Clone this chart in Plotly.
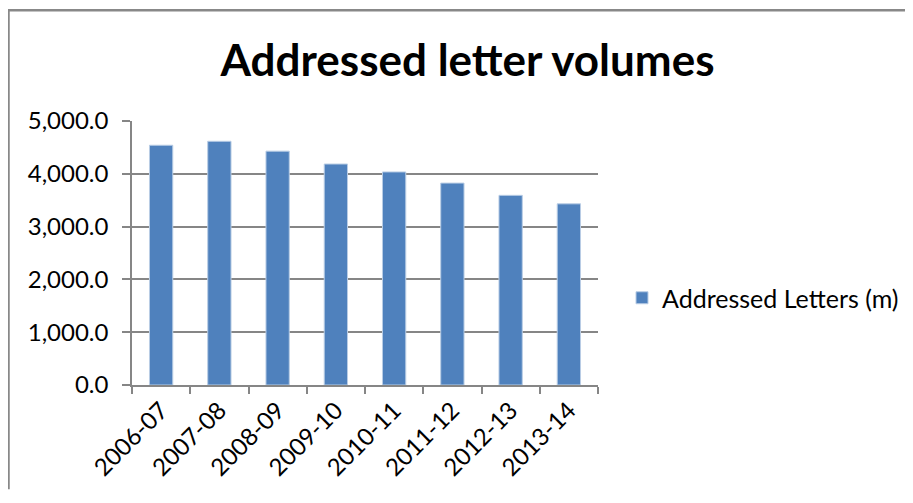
import plotly.graph_objects as go

categories = ["2006-07", "2007-08", "2008-09", "2009-10", "2010-11", "2011-12", "2012-13", "2013-14"]
letters = [4541, 4616, 4429, 4185, 4035, 3824, 3592, 3431]
series_name = "Addressed Letters (m)"
title_text = "Addressed letter volumes"

# page has an 8px body margin, so the figure is laid out in shifted coordinates
W, H = 897, 485
L, R, T, B = 124, 590, 112.5, 379.5

FONT = "Lato"
GRID = "#868686"


def px_y(y):
    return (B - y) / (B - T)


def px_x(x):
    return (x - L) / (R - L)


fig = go.Figure()
fig.add_trace(go.Bar(
    x=categories, y=letters, name=series_name,
    marker=dict(color="#4F81BD", line=dict(color="#B9CDE5", width=1)),
    width=0.4,
))

fig.update_layout(
    width=W, height=H,
    margin=dict(l=L, r=W - R, t=T, b=H - B, pad=0),
    paper_bgcolor="white", plot_bgcolor="white",
    title=dict(text=f"<b>{title_text}</b>", x=459.5 / W, xanchor="center",
               y=1 - 53 / H, yanchor="middle",
               font=dict(family=FONT, size=44, color="black")),
    showlegend=True,
    legend=dict(xref="container", yref="container",
                x=614 / W, xanchor="left", y=1 - 290 / H, yanchor="middle",
                font=dict(family=FONT, size=25, color="black"),
                bgcolor="rgba(0,0,0,0)", borderwidth=0),
    font=dict(family=FONT, size=24, color="black"),
)

fig.update_xaxes(
    type="category", tickangle=-45, showline=True, linecolor=GRID, linewidth=1.5,
    ticks="outside", tickson="boundaries", ticklen=7, tickcolor=GRID, tickwidth=1.5,
    showgrid=False, tickfont=dict(family=FONT, size=24, color="black"),
)
fig.update_yaxes(
    range=[0, 5000], dtick=1000, tickformat=",.1f", showline=True, linecolor=GRID, linewidth=1.5,
    ticks="outside", ticklen=8, tickcolor=GRID, tickwidth=1.5, ticklabelstandoff=9,
    showgrid=True, gridcolor=GRID, gridwidth=1.5, zeroline=False,
    tickfont=dict(family=FONT, size=24, color="black"),
)

# chart-area border (top and left visible in reference)
fig.add_shape(type="line", xref="paper", yref="paper",
              x0=px_x(0), x1=px_x(W), y0=px_y(0.5), y1=px_y(0.5),
              line=dict(color="#888888", width=2.5))
fig.add_shape(type="line", xref="paper", yref="paper",
              x0=px_x(0.5), x1=px_x(0.5), y0=px_y(0), y1=px_y(H),
              line=dict(color="#888888", width=2.5))

fig.write_html("out.html", config={"displayModeBar": False})
